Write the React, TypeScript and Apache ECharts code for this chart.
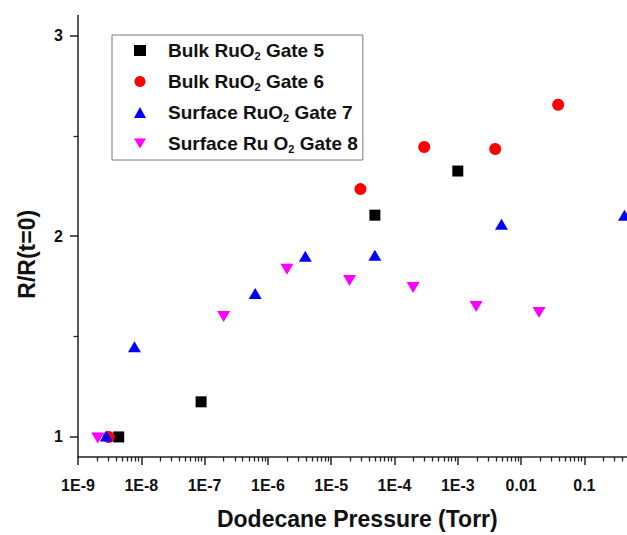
import React, { useEffect, useRef } from 'react';
import * as echarts from 'echarts';

// ---- data (pressure in Torr, R/R(t=0)) ----
const seriesNames = ['Bulk RuO2 Gate 5', 'Bulk RuO2 Gate 6', 'Surface RuO2 Gate 7', 'Surface Ru O2 Gate 8'];
const seriesColors = ['#000000', '#ff0000', '#0000ff', '#ff00ff'];

const gate5: [number, number][] = [
  [4.4e-9, 1.0], [8.8e-8, 1.175], [4.9e-5, 2.105], [1.0e-3, 2.325],
];
const gate6: [number, number][] = [
  [3.05e-9, 1.0], [2.9e-5, 2.235], [2.95e-4, 2.445], [3.9e-3, 2.435], [3.85e-2, 2.655],
];
const gate7: [number, number][] = [
  [2.8e-9, 1.005], [7.8e-9, 1.45], [6.3e-7, 1.715], [3.9e-6, 1.9], [4.9e-5, 1.905], [4.9e-3, 2.06], [0.43, 2.105],
];
const gate8: [number, number][] = [
  [2.05e-9, 0.995], [2.0e-7, 1.6], [2.0e-6, 1.835], [1.95e-5, 1.78], [1.97e-4, 1.745], [1.95e-3, 1.65], [1.92e-2, 1.62],
];

const xMajorTicks = [1e-9, 1e-8, 1e-7, 1e-6, 1e-5, 1e-4, 1e-3, 1e-2, 1e-1, 1];
const xTickLabels = [1e-9, 1e-8, 1e-7, 1e-6, 1e-5, 1e-4, 1e-3, 1e-2, 1e-1];
const yMajorTicks = [1, 2, 3];
const yMinorTicks = [1.5, 2.5];

const xMinorTicks: number[] = [];
for (let k = -9; k <= -1; k++) {
  for (let m = 2; m <= 9; m++) xMinorTicks.push(parseFloat((m * Math.pow(10, k)).toPrecision(3)));
}

const FONT = "'Liberation Sans', Arial, Helvetica, sans-serif";
const AXIS_COLOR = '#222';
const CHART_W = 700; // plot continues past the right edge of the visible 627px frame
const DOWN_TRIANGLE = 'path://M0,0 L13,0 L6.5,11 Z';

function xLabel(v: number): string {
  const e = Math.round(Math.log10(v));
  if (e === -2) return '0.01';
  if (e === -1) return '0.1';
  if (e === 0) return '1';
  return '1E' + e;
}

export default function App() {
  const ref = useRef<HTMLDivElement>(null);
  useEffect(() => {
    if (!ref.current) return;
    const chart = echarts.init(ref.current, null, { renderer: 'svg' });
    const datasets = [gate5, gate6, gate7, gate8];
    const symbols = ['rect', 'circle', 'triangle', DOWN_TRIANGLE];
    const sizes: any[] = [11, 12, [13, 11], [13, 11]];
    chart.setOption({
      animation: false,
      backgroundColor: '#ffffff',
      grid: { left: 78, top: 15.5, right: CHART_W - 647.7, bottom: 74.3, containLabel: false },
      legend: {
        orient: 'vertical',
        left: 112,
        top: 35,
        padding: [5, 5, 6, 22],
        itemWidth: 12,
        itemHeight: 11,
        itemGap: 10,
        borderColor: '#7a7a7a',
        borderWidth: 1,
        backgroundColor: '#ffffff',
        data: seriesNames,
        formatter: (name: string) => '{g| }{a|' + name.replace('O2', 'O}{s|2}{a|') + '}',
        textStyle: {
          fontFamily: FONT,
          fontWeight: 'bold',
          fontSize: 19,
          rich: {
            g: { width: 17, fontSize: 19, lineHeight: 21 },
            a: { fontFamily: FONT, fontWeight: 'bold', fontSize: 19, lineHeight: 21, color: '#111' },
            s: { fontFamily: FONT, fontWeight: 'bold', fontSize: 11, lineHeight: 11, padding: [10, 0, 0, 0], verticalAlign: 'top', color: '#111' },
          },
        },
      },
      xAxis: [
        {
          type: 'log',
          logBase: 10,
          min: 1e-9,
          max: 1,
          position: 'bottom',
          name: 'Dodecane Pressure (Torr)',
          nameLocation: 'middle',
          nameGap: 50,
          nameTextStyle: { fontFamily: FONT, fontWeight: 'bold', fontSize: 23, color: '#111', padding: [0, 11, 0, 0] },
          axisLine: { show: true, onZero: false, lineStyle: { color: AXIS_COLOR, width: 1.5 } },
          axisTick: { show: true, inside: false, length: 8, customValues: xMajorTicks, lineStyle: { color: AXIS_COLOR, width: 1.5 } },
          axisLabel: { show: true, margin: 20, customValues: xTickLabels, formatter: xLabel, fontFamily: FONT, fontWeight: 'bold', fontSize: 16, color: '#111' },
          splitLine: { show: false },
          minorTick: { show: false },
        },
        {
          type: 'log',
          logBase: 10,
          min: 1e-9,
          max: 1,
          position: 'bottom',
          offset: 0,
          axisLine: { show: false },
          axisTick: { show: true, inside: false, length: 4.5, customValues: xMinorTicks, lineStyle: { color: AXIS_COLOR, width: 1.3 } },
          axisLabel: { show: false },
          splitLine: { show: false },
        },
      ],
      yAxis: [
        {
          type: 'value',
          min: 0.9,
          max: 3.1,
          position: 'left',
          name: 'R/R(t=0)',
          nameLocation: 'middle',
          nameGap: 40,
          nameTextStyle: { fontFamily: FONT, fontWeight: 'bold', fontSize: 23, color: '#111', padding: [0, 36, 0, 0] },
          axisLine: { show: true, onZero: false, lineStyle: { color: AXIS_COLOR, width: 1.5 } },
          axisTick: { show: true, inside: false, length: 8, customValues: yMajorTicks, lineStyle: { color: AXIS_COLOR, width: 1.5 } },
          axisLabel: { show: true, margin: 15, customValues: yMajorTicks, fontFamily: FONT, fontWeight: 'bold', fontSize: 16, color: '#111' },
          splitLine: { show: false },
        },
        {
          type: 'value',
          min: 0.9,
          max: 3.1,
          position: 'left',
          offset: 0,
          axisLine: { show: false },
          axisTick: { show: true, inside: false, length: 4.5, customValues: yMinorTicks, lineStyle: { color: AXIS_COLOR, width: 1.3 } },
          axisLabel: { show: false },
          splitLine: { show: false },
        },
      ],
      series: seriesNames.map((name, i) => ({
        name,
        type: 'scatter',
        xAxisIndex: 0,
        yAxisIndex: 0,
        data: datasets[i],
        symbol: symbols[i],
        symbolSize: sizes[i],
        itemStyle: { color: seriesColors[i], opacity: 1 },
        z: 2 + i,
      })),
    });
    return () => chart.dispose();
  }, []);
  return (
    <div style={{ position: 'absolute', left: 0, top: 0, width: 627, height: 535, overflow: 'hidden', background: '#fff' }}>
      <div ref={ref} style={{ width: CHART_W, height: 535 }} />
    </div>
  );
}
